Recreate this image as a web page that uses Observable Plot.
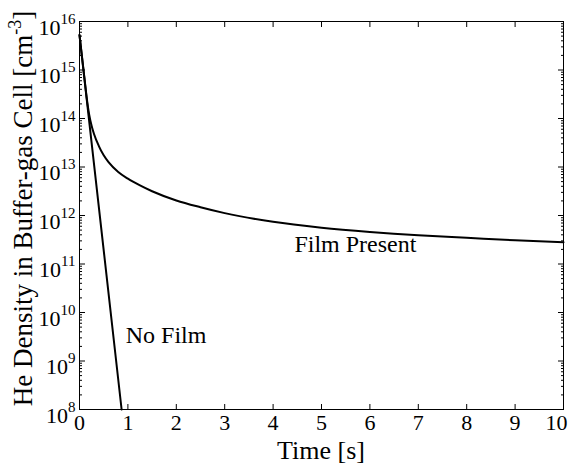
<!DOCTYPE html>
<html><head><meta charset="utf-8">
<script src="https://cdn.jsdelivr.net/npm/d3@7"></script>
<script src="https://cdn.jsdelivr.net/npm/@observablehq/plot@0.6"></script>
<style>body{margin:0;background:#fff;} svg{display:block;}</style>
</head><body><div id="chart"></div>
<script>
// Film Present curve (time in s, density in cm^-3)
const filmTime    = [0, 0.1, 0.15, 0.2, 0.25, 0.3, 0.4, 0.5, 0.6, 0.8, 1.0, 1.25, 1.5, 2, 2.5, 3, 4, 5, 6, 7, 8, 9, 10];
const filmDensity = [5.25e15, 7.1e14, 2.63e14, 1.2e14, 7.1e13, 4.8e13, 2.7e13, 1.74e13, 1.26e13, 7.9e12, 5.75e12,
                     4.17e12, 3.16e12, 2.04e12, 1.48e12, 1.12e12, 7.4e11, 5.6e11, 4.57e11, 3.9e11, 3.47e11, 3.09e11, 2.82e11];
// No Film curve
const noFilmTime    = [0, 0.87];
const noFilmDensity = [5.25e15, 1e8];

const xTicks = [0, 1, 2, 3, 4, 5, 6, 7, 8, 9, 10];
const yExponents = [8, 9, 10, 11, 12, 13, 14, 15, 16];
const filmLabel = {text: "Film Present", t: 5.7, n: 2.5e11};
const noFilmLabel = {text: "No Film", t: 0.955, n: 3.4e9};
const xLabel = "Time [s]";
const yLabelMain = "He Density in Buffer-gas Cell [cm";
const yLabelSup = "-3";
const yLabelEnd = "]";

const yMajor = yExponents.map(e => Math.pow(10, e));
const yMinor = [];
for (const e of yExponents.slice(0, -1)) for (let k = 2; k <= 9; k++) yMinor.push(k * Math.pow(10, e));

const film = filmTime.map((t, i) => ({t, n: filmDensity[i]}));
const noFilm = noFilmTime.map((t, i) => ({t, n: noFilmDensity[i]}));

const FONT = "'Liberation Serif', 'Times New Roman', serif";

const svg = Plot.plot({
  width: 570, height: 465,
  marginLeft: 79, marginRight: 7, marginTop: 21, marginBottom: 56,
  style: {fontFamily: FONT, fontSize: "22px", background: "white", color: "black"},
  x: {domain: [0, 10], label: null},
  y: {type: "log", domain: [1e8, 1e16], label: null},
  marks: [
    Plot.frame({stroke: "black", strokeWidth: 1}),
    Plot.axisX({anchor: "top", ticks: xTicks, tickSize: -5, tickFormat: () => "", label: null}),
    Plot.axisX({anchor: "bottom", ticks: xTicks, tickSize: -5, tickPadding: 10, tickFormat: d => String(d), label: null}),
    Plot.axisY({anchor: "left", ticks: yMajor, tickSize: -6, tickPadding: 10, tickFormat: d => "10^" + Math.round(Math.log10(d)), label: null}),
    Plot.axisY({anchor: "left", ticks: yMinor, tickSize: -3, tickFormat: () => "", label: null}),
    Plot.axisY({anchor: "right", ticks: yMajor, tickSize: -6, tickFormat: () => "", label: null}),
    Plot.axisY({anchor: "right", ticks: yMinor, tickSize: -3, tickFormat: () => "", label: null}),
    Plot.line(film, {x: "t", y: "n", stroke: "black", strokeWidth: 2, curve: "monotone-x"}),
    Plot.line(noFilm, {x: "t", y: "n", stroke: "black", strokeWidth: 2}),
    Plot.text([filmLabel], {x: "t", y: "n", text: "text", textAnchor: "middle", fontSize: 24, fill: "black"}),
    Plot.text([noFilmLabel], {x: "t", y: "n", text: "text", textAnchor: "start", fontSize: 24, fill: "black"})
  ]
});

// Superscript exponents on y tick labels
d3.select(svg).selectAll('g[aria-label="y-axis tick label"] text').each(function () {
  const s = this.textContent;
  if (!s || s.indexOf("^") < 0) return;
  const exp = s.split("^")[1];
  const t = d3.select(this);
  t.text(null).attr("y", 13).attr("font-size", 22);
  t.append("tspan").text("10");
  t.append("tspan").attr("font-size", 15).attr("dy", -11).text(exp);
});
// keep the last x tick label ("10") inside the picture
d3.select(svg).selectAll('g[aria-label="x-axis tick label"] text')
  .filter(function () { return this.textContent === String(xTicks[xTicks.length - 1]); })
  .attr("x", -7);

const s = d3.select(svg);
s.append("text")
  .attr("x", 321).attr("y", 459)
  .attr("text-anchor", "middle")
  .attr("font-family", FONT).attr("font-size", 26).attr("fill", "black")
  .text(xLabel);

const yl = s.append("text")
  .attr("transform", "translate(32,208.5) rotate(-90)")
  .attr("text-anchor", "middle")
  .attr("font-family", FONT).attr("font-size", 27).attr("fill", "black");
yl.append("tspan").text(yLabelMain);
yl.append("tspan").attr("font-size", 18).attr("dy", -11).text(yLabelSup);
yl.append("tspan").attr("dy", 11).text(yLabelEnd);

document.getElementById("chart").appendChild(svg);
</script>
</body></html>
